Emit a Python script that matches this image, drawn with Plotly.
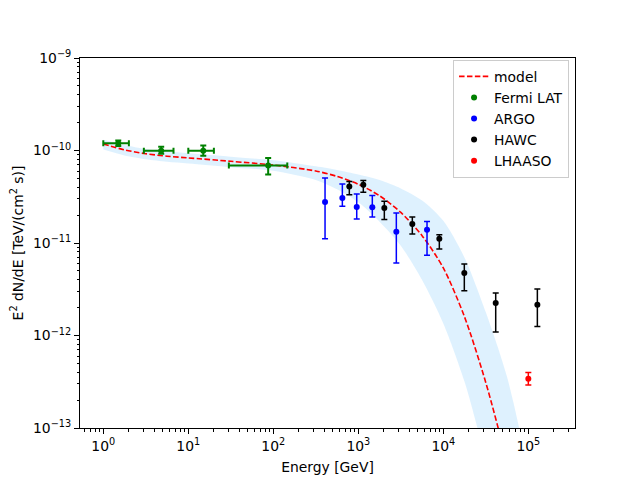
import plotly.graph_objects as go

# ---------------- data ----------------
# Fermi LAT (green): energy [GeV], bin edges, flux and flux error limits
fermi_E = [1.5, 4.8, 15.0, 87.0]
fermi_E_lo = [1.0, 3.0, 10.0, 30.0]
fermi_E_hi = [2.0, 6.7, 20.0, 146.0]
fermi_F = [1.20e-10, 0.995e-10, 0.995e-10, 6.9e-11]
fermi_F_hi = [1.28e-10, 1.097e-10, 1.13e-10, 8.3e-11]
fermi_F_lo = [1.12e-10, 0.92e-10, 0.88e-10, 5.5e-11]

# ARGO (blue)
argo_E = [406, 649, 958, 1461, 2800, 6430]
argo_F = [2.77e-11, 3.06e-11, 2.45e-11, 2.43e-11, 1.32e-11, 1.39e-11]
argo_F_hi = [5.04e-11, 4.35e-11, 3.39e-11, 3.27e-11, 2.11e-11, 1.71e-11]
argo_F_lo = [1.11e-11, 2.49e-11, 1.82e-11, 1.91e-11, 6.08e-12, 7.35e-12]

# HAWC (black)
hawc_E = [784, 1145, 2023, 4318, 8975, 17660, 41330, 127700]
hawc_F = [4.09e-11, 4.27e-11, 2.39e-11, 1.60e-11, 1.11e-11, 4.74e-12, 2.24e-12, 2.15e-12]
hawc_F_hi = [4.63e-11, 4.75e-11, 2.82e-11, 1.91e-11, 1.23e-11, 5.93e-12, 2.88e-12, 3.18e-12]
hawc_F_lo = [3.33e-11, 3.53e-11, 1.79e-11, 1.25e-11, 8.6e-12, 3.05e-12, 1.09e-12, 1.25e-12]

# LHAASO (red)
lhaaso_E = [1.0e5]
lhaaso_F = [3.41e-13]
lhaaso_F_hi = [3.99e-13]
lhaaso_F_lo = [2.92e-13]

# model curve (red dashed)
model_E = [1, 1.778, 3.162, 5.623, 10, 31.62, 100, 316.2, 562.3, 1000, 1778,
           3162, 5623, 10000, 17780, 31620, 56230, 100000]
model_F = [1.175e-10, 1.016e-10, 9.23e-11, 8.67e-11, 8.32e-11, 7.64e-11, 6.97e-11,
           6.00e-11, 5.25e-11, 4.32e-11, 3.24e-11, 2.14e-11, 1.20e-11, 5.37e-12,
           1.585e-12, 3.09e-13, 4.17e-14, 3.98e-15]

# model uncertainty band (light blue)
band_E_up = [1, 1.778, 3.162, 5.623, 10, 31.62, 100, 316.2, 562.3, 1000, 1778,
             3162, 5623, 10000, 17780, 31620, 56230, 100000, 177800]
band_F_up = [1.309e-10, 1.146e-10, 1.035e-10, 9.73e-11, 9.33e-11, 8.57e-11, 7.85e-11,
             6.76e-11, 6.17e-11, 5.50e-11, 4.79e-11, 3.89e-11, 2.88e-11, 1.74e-11,
             6.92e-12, 1.78e-12, 3.55e-13, 3.55e-14, 3.16e-15]
band_E_lo = [1, 1.778, 3.162, 5.623, 10, 31.62, 100, 316.2, 562.3, 1000, 1778,
             3162, 5623, 10000, 17780, 31620, 56230]
band_F_lo = [1.023e-10, 8.85e-11, 8.04e-11, 7.55e-11, 7.24e-11, 6.61e-11, 6.03e-11,
             4.79e-11, 3.80e-11, 2.75e-11, 1.70e-11, 9.33e-12, 3.98e-12, 1.35e-12,
             3.16e-13, 4.47e-14, 5.0e-15]

x_tick_vals = [1, 10, 100, 1000, 10000, 100000]
x_tick_text = ["10<sup>0</sup>", "10<sup>1</sup>", "10<sup>2</sup>", "10<sup>3</sup>",
               "10<sup>4</sup>", "10<sup>5</sup>"]
y_tick_vals = [1e-13, 1e-12, 1e-11, 1e-10, 1e-9]
y_tick_text = ["10<sup>\u221213</sup>", "10<sup>\u221212</sup>", "10<sup>\u221211</sup>",
               "10<sup>\u221210</sup>", "10<sup>\u22129</sup>"]

# --------------------------------------------------------------
FONT = "DejaVu Sans"
FS = 13.9

fig = go.Figure()

# band
fig.add_trace(go.Scatter(x=band_E_up, y=band_F_up, mode="lines",
                         line=dict(width=0, shape="spline", smoothing=0.8),
                         showlegend=False, hoverinfo="skip"))
fig.add_trace(go.Scatter(x=band_E_lo, y=band_F_lo, mode="lines",
                         line=dict(width=0, shape="spline", smoothing=0.8),
                         fill="tonexty", fillcolor="rgba(135,206,250,0.28)",
                         showlegend=False, hoverinfo="skip"))

# model
fig.add_trace(go.Scatter(x=model_E, y=model_F, mode="lines", name="model",
                         line=dict(color="red", width=1.6, dash="5.5px,2.4px",
                                   shape="spline", smoothing=0.8)))


def err_trace(name, color, E, F, Fhi, Flo, Elo=None, Ehi=None, lw=1.5, ms=6):
    ey = dict(type="data", symmetric=False,
              array=[h - f for h, f in zip(Fhi, F)],
              arrayminus=[f - l for f, l in zip(F, Flo)],
              color=color, thickness=lw, width=3)
    kw = {}
    if Elo is not None:
        kw["error_x"] = dict(type="data", symmetric=False,
                             array=[h - e for h, e in zip(Ehi, E)],
                             arrayminus=[e - l for e, l in zip(E, Elo)],
                             color=color, thickness=lw, width=3)
    return go.Scatter(x=E, y=F, mode="markers", name=name,
                      marker=dict(color=color, size=ms, symbol="circle"),
                      error_y=ey, **kw)


fig.add_trace(err_trace("Fermi LAT", "green", fermi_E, fermi_F, fermi_F_hi, fermi_F_lo,
                        fermi_E_lo, fermi_E_hi, lw=2, ms=6))
fig.add_trace(err_trace("ARGO", "blue", argo_E, argo_F, argo_F_hi, argo_F_lo))
fig.add_trace(err_trace("HAWC", "black", hawc_E, hawc_F, hawc_F_hi, hawc_F_lo))
fig.add_trace(err_trace("LHAASO", "red", lhaaso_E, lhaaso_F, lhaaso_F_hi, lhaaso_F_lo))

x_minor = [m * 10 ** k for k in range(-1, 6) for m in range(2, 10)]
y_minor = [m * 10.0 ** k for k in range(-13, -9) for m in range(2, 10)]

axis_common = dict(showline=True, linecolor="black", linewidth=1, mirror=True,
                   ticks="outside", ticklen=5, tickwidth=1, tickcolor="black",
                   showgrid=False, zeroline=False,
                   tickfont=dict(family=FONT, size=FS, color="black"))

fig.update_xaxes(type="log", range=[-0.274, 5.549],
                 tickmode="array", tickvals=x_tick_vals, ticktext=x_tick_text,
                 minor=dict(tickmode="array", tickvals=x_minor, ticks="outside",
                            ticklen=2.5, tickwidth=0.8, tickcolor="black", showgrid=False),
                 title=dict(text="Energy [GeV]", font=dict(family=FONT, size=FS, color="black"),
                            standoff=9),
                 **axis_common)
fig.update_yaxes(type="log", range=[-13, -9],
                 tickmode="array", tickvals=y_tick_vals, ticktext=y_tick_text,
                 minor=dict(tickmode="array", tickvals=y_minor, ticks="outside",
                            ticklen=2.5, tickwidth=0.8, tickcolor="black", showgrid=False),
                 title=dict(text="E<sup>2</sup> dN/dE [TeV/(cm<sup>2</sup> s)]",
                            font=dict(family=FONT, size=FS, color="black"), standoff=8),
                 **axis_common)

# the page places the figure 8 px from the top-left corner; margins compensate
fig.update_layout(
    width=640, height=480,
    margin=dict(l=72, r=73, t=50, b=60, autoexpand=False),
    paper_bgcolor="white", plot_bgcolor="white",
    font=dict(family=FONT, size=FS, color="black"),
    legend=dict(x=0.988, y=0.995, xanchor="right", yanchor="top",
                traceorder="normal",
                bgcolor="rgba(255,255,255,0.8)", bordercolor="#cccccc", borderwidth=1,
                font=dict(family=FONT, size=FS, color="black"),
                tracegroupgap=0, itemwidth=30),
)

fig.write_html("out.html")
